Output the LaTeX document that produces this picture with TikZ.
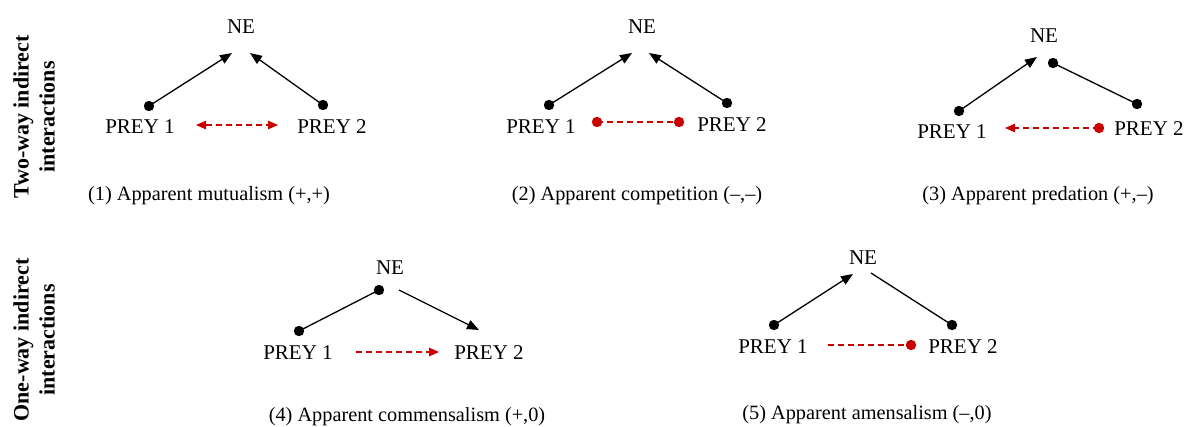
\documentclass[tikz,border=0pt]{standalone}
\usepackage{fontspec}
\setmainfont{Liberation Serif}
\usetikzlibrary{arrows.meta}
\definecolor{dred}{RGB}{200,0,0}
\tikzset{
  lbl/.style={inner sep=0pt, anchor=base, font=\fontsize{21}{24}\selectfont},
  captxt/.style={inner sep=0pt, anchor=base, font=\fontsize{20.3}{24}\selectfont},
  side/.style={inner sep=0pt, rotate=90, align=center, font=\fontsize{22}{26}\selectfont\bfseries},
  blk/.style={line width=1.3pt, black},
  btip/.style={-{Triangle[length=12pt,width=9.5pt]}},
  rdash/.style={line width=1.2pt, dred, dash pattern=on 6pt off 4pt},
  rtip/.style={-{Triangle[length=10pt,width=8.5pt]}},
  rtips/.style={{Triangle[length=10pt,width=8.5pt]}-{Triangle[length=10pt,width=8.5pt]}},
}
\begin{document}
\begin{tikzpicture}[x=1pt,y=-1pt]
\useasboundingbox (0,0) rectangle (1189,426);
% side labels
\node[side] (s1) at (34,117) {Two-way indirect\\interactions};
\node[side] (s2) at (34,340) {One-way indirect\\interactions};

% ---------- Panel 1
\node[lbl] (ne1) at (241,33) {NE};
\node[lbl] (pa1) at (140,133) {PREY 1};
\node[lbl] (pb1) at (332,133) {PREY 2};
\node[captxt] (c1) at (209,200) {(1) Apparent mutualism (+,+)};
\coordinate (a1s) at (149,106); \coordinate (a1e) at (232,53);
\coordinate (b1s) at (323,105); \coordinate (b1e) at (250,53);
\coordinate (r1s) at (196,125); \coordinate (r1e) at (278,125);
\draw[blk,btip] (a1s) -- (a1e);
\draw[blk,btip] (b1s) -- (b1e);
\fill (a1s) circle (5.2); \fill (b1s) circle (5.2);
\draw[rdash,rtips] (r1s) -- (r1e);

% ---------- Panel 2
\node[lbl] (ne2) at (642,33) {NE};
\node[lbl] (pa2) at (541,133) {PREY 1};
\node[lbl] (pb2) at (732,131) {PREY 2};
\node[captxt] (c2) at (637,200) {(2) Apparent competition (--,--)};
\coordinate (a2s) at (549,105); \coordinate (a2e) at (632,53);
\coordinate (b2s) at (727,103); \coordinate (b2e) at (649,53);
\coordinate (r2s) at (597,122); \coordinate (r2e) at (679,122);
\draw[blk,btip] (a2s) -- (a2e);
\draw[blk,btip] (b2s) -- (b2e);
\fill (a2s) circle (5.2); \fill (b2s) circle (5.2);
\draw[rdash] (r2s) -- (r2e);
\fill[dred] (r2s) circle (5.2); \fill[dred] (r2e) circle (5.2);

% ---------- Panel 3
\node[lbl] (ne3) at (1044,42) {NE};
\node[lbl] (pa3) at (952,138) {PREY 1};
\node[lbl] (pb3) at (1149,135) {PREY 2};
\node[captxt] (c3) at (1038,200) {(3) Apparent predation (+,--)};
\coordinate (a3s) at (959,111); \coordinate (a3e) at (1037,57);
\coordinate (b3s) at (1137,104); \coordinate (b3e) at (1053,63);
\coordinate (r3s) at (1099,128); \coordinate (r3e) at (1005,128);
\draw[blk,btip] (a3s) -- (a3e);
\draw[blk] (b3s) -- (b3e);
\fill (a3s) circle (5.2); \fill (b3s) circle (5.2); \fill (b3e) circle (5.2);
\draw[rdash,rtip] (r3s) -- (r3e);
\fill[dred] (r3s) circle (5.2);

% ---------- Panel 4
\node[lbl] (ne4) at (390,274) {NE};
\node[lbl] (pa4) at (298,359) {PREY 1};
\node[lbl] (pb4) at (489,359) {PREY 2};
\node[captxt] (c4) at (407,421) {(4) Apparent commensalism (+,0)};
\coordinate (a4s) at (299,331); \coordinate (a4e) at (379,290);
\coordinate (b4s) at (399,290); \coordinate (b4e) at (479,330);
\coordinate (r4s) at (356,352); \coordinate (r4e) at (439,352);
\draw[blk] (a4s) -- (a4e);
\draw[blk,btip] (b4s) -- (b4e);
\fill (a4s) circle (5.2); \fill (a4e) circle (5.2);
\draw[rdash,rtip] (r4s) -- (r4e);

% ---------- Panel 5
\node[lbl] (ne5) at (863,264) {NE};
\node[lbl] (pa5) at (773,353) {PREY 1};
\node[lbl] (pb5) at (963,353) {PREY 2};
\node[captxt] (c5) at (867,419) {(5) Apparent amensalism (--,0)};
\coordinate (a5s) at (774,325); \coordinate (a5e) at (853,274);
\coordinate (b5s) at (952,325); \coordinate (b5e) at (871,273);
\coordinate (r5s) at (828,345); \coordinate (r5e) at (911,345);
\draw[blk,btip] (a5s) -- (a5e);
\draw[blk] (b5s) -- (b5e);
\fill (a5s) circle (5.2); \fill (b5s) circle (5.2);
\draw[rdash] (r5s) -- (r5e);
\fill[dred] (r5e) circle (5.2);
\end{tikzpicture}
\end{document}
